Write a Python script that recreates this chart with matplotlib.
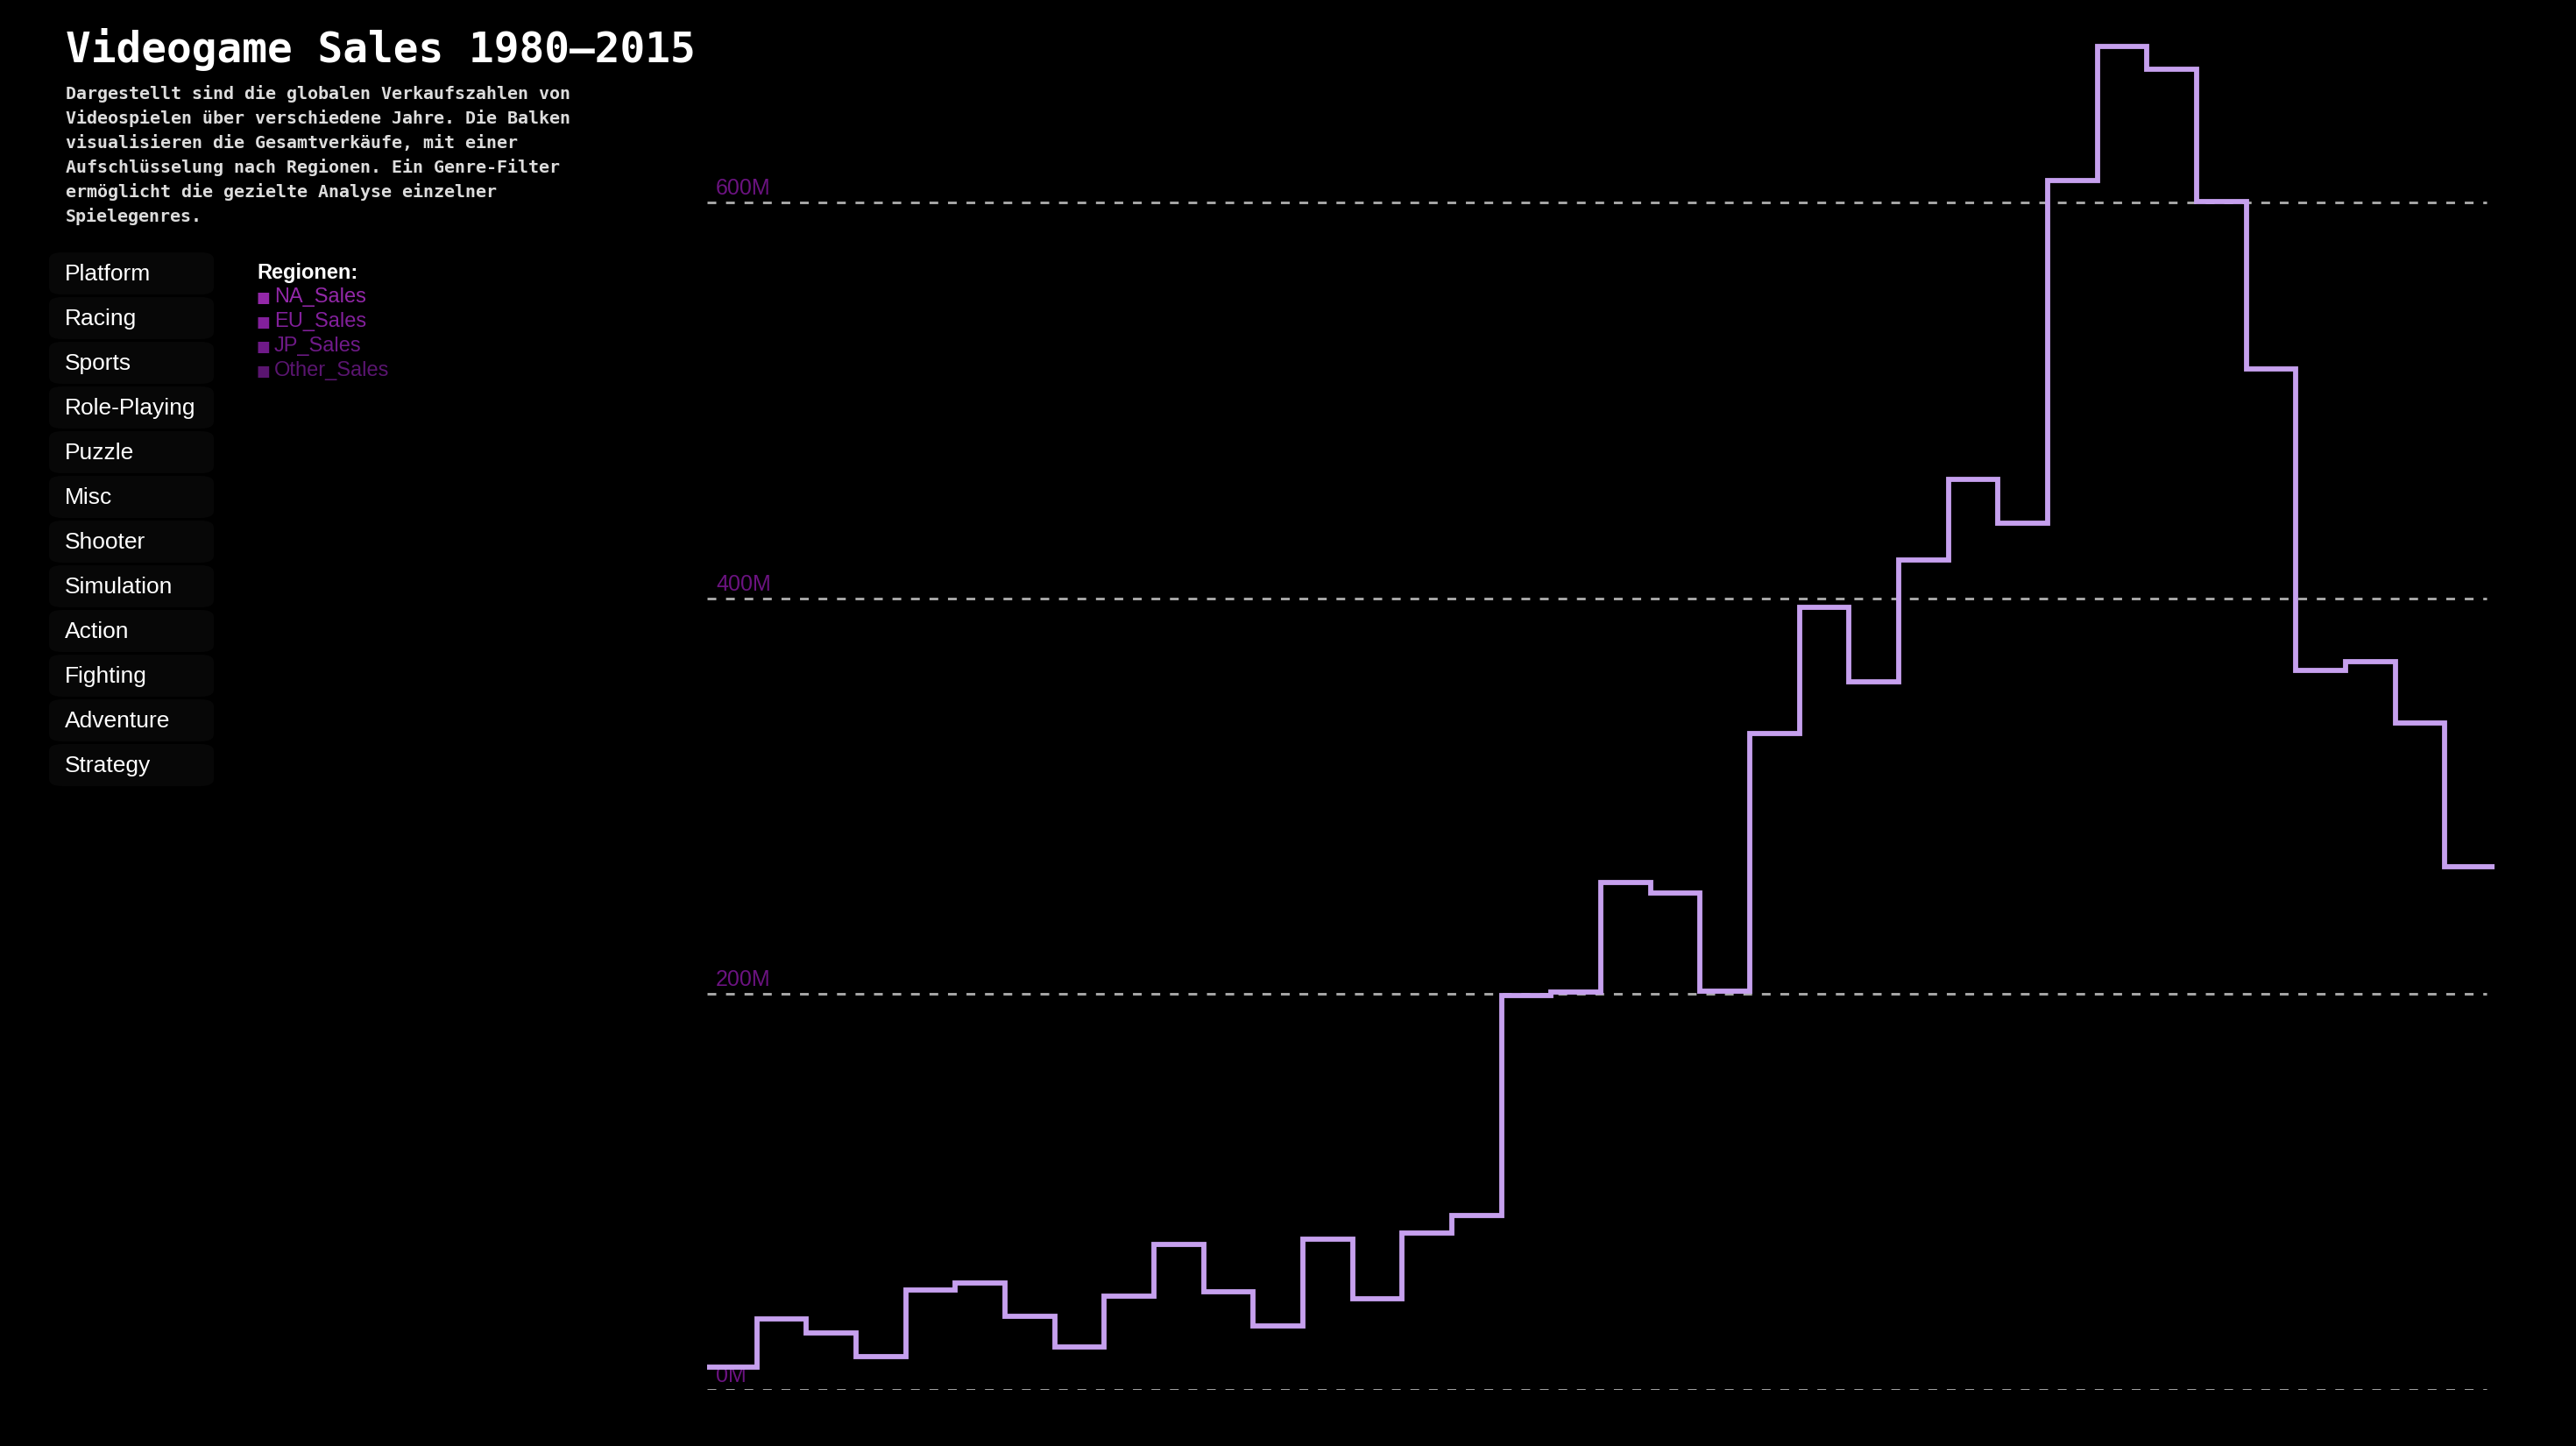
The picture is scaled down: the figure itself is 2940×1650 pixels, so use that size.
import matplotlib
matplotlib.use("Agg")
import matplotlib.pyplot as plt
from matplotlib.patches import FancyBboxPatch
import numpy as np

# ---- data ----
years = list(range(1980, 2016))
global_sales = [11.38, 35.77, 28.86, 16.79, 50.36, 53.94, 37.07, 21.74, 47.22, 73.45,
                49.39, 32.23, 76.16, 45.98, 79.17, 88.11, 199.15, 200.98, 256.47, 251.27,
                201.56, 331.47, 395.52, 357.85, 419.31, 459.94, 438.0, 611.13, 678.90, 667.30,
                600.45, 515.99, 363.54, 368.11, 337.05, 264.44]
grid_values = [0, 200, 400, 600]
grid_labels = ["0M", "200M", "400M", "600M"]
genres = ["Platform", "Racing", "Sports", "Role-Playing", "Puzzle", "Misc",
          "Shooter", "Simulation", "Action", "Fighting", "Adventure", "Strategy"]
regions = ["NA_Sales", "EU_Sales", "JP_Sales", "Other_Sales"]
region_colors = ["#9328a8", "#83209c", "#6f1a88", "#5a1570"]
title = "Videogame Sales 1980\u20132015"
subtitle_lines = [
    "Dargestellt sind die globalen Verkaufszahlen von",
    "Videospielen \u00fcber verschiedene Jahre. Die Balken",
    "visualisieren die Gesamtverk\u00e4ufe, mit einer",
    "Aufschl\u00fcsselung nach Regionen. Ein Genre-Filter",
    "erm\u00f6glicht die gezielte Analyse einzelner",
    "Spielegenres.",
]

# ---- figure ----
W, H = 2940, 1650
DPI = 200
plt.rcParams['lines.scale_dashes'] = False
fig = plt.figure(figsize=(W / DPI, H / DPI), dpi=DPI, facecolor="black")

def fx(px):
    return px / W

def fy(py):
    return 1 - py / H

# plot axes: x 807..2847 px, y: 0 at 1586 px
ymax = 700
px_per_m = (1586 - 231) / 600.0
top_px = 1586 - ymax * px_per_m
ax = fig.add_axes([fx(807), fy(1586), fx(2847) - fx(807), (1586 - top_px) / H])
ax.set_facecolor("black")
ax.set_xlim(1980, 2016)
ax.set_ylim(0, ymax)
ax.axis("off")

edges = list(range(1980, 2017))
for v, lab in zip(grid_values, grid_labels):
    ax.hlines(v, 1980, 2015.85, colors="#a8a8a8", linewidth=1.05,
              linestyles=(0, (3.6, 4.0)), zorder=1)
    ax.annotate(lab, xy=(1980, v), xytext=(10, 9), textcoords="offset pixels",
                ha="left", va="baseline", fontsize=9, color="#6b1380",
                family=["Liberation Sans", "DejaVu Sans"], zorder=2)

ax.stairs(global_sales, edges, baseline=None, color="#c6a0ee", linewidth=2.1, zorder=3)

# ---- title / subtitle ----
fig.text(fx(75), fy(71), title, ha="left", va="baseline", fontsize=17.2,
         fontweight="bold", color="white", family="DejaVu Sans Mono")
for i, line in enumerate(subtitle_lines):
    fig.text(fx(75), fy(113 + i * 28), line, ha="left", va="baseline", fontsize=7.2,
             fontweight="bold", color="#dddddd", family="DejaVu Sans Mono")

# ---- genre buttons ----
for i, g in enumerate(genres):
    top = 287 + i * 51
    box = FancyBboxPatch((fx(56), fy(top + 49)), fx(244) - fx(56), 48 / H,
                         boxstyle="round,pad=0,rounding_size=0.005",
                         transform=fig.transFigure, facecolor="#070707",
                         edgecolor="none", zorder=0)
    fig.patches.append(box)
    fig.text(fx(74), fy(320 + i * 51), g, ha="left", va="baseline", fontsize=9.5,
             color="white", family=["Liberation Sans", "DejaVu Sans"])

# ---- region legend ----
fig.text(fx(293), fy(318), "Regionen:", ha="left", va="baseline", fontsize=8.5,
         fontweight="bold", color="white", family=["Liberation Sans", "DejaVu Sans"])
for i, (r, c) in enumerate(zip(regions, region_colors)):
    yb = 345 + i * 28
    fig.text(fx(293), fy(yb), "\u25a0", ha="left", va="baseline", fontsize=6,
             color=c, family=["DejaVu Sans"])
    fig.text(fx(313), fy(yb), r, ha="left", va="baseline", fontsize=8.5,
             color=c, family=["Liberation Sans", "DejaVu Sans"])

fig.savefig("out.png", dpi=DPI, facecolor="black")
